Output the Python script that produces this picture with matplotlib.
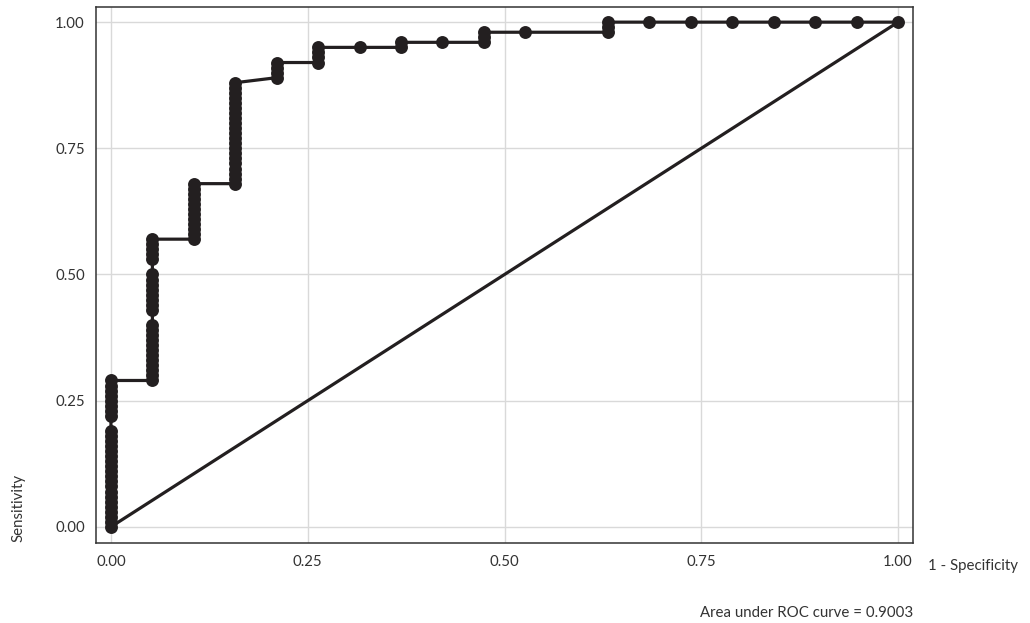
import matplotlib
matplotlib.use('Agg')
import matplotlib.pyplot as plt
import numpy as np

plt.rcParams['font.family'] = ['Lato', 'DejaVu Sans']

# ROC points: false positive count (out of 19 negatives) and sensitivity
n_neg = 19
fp_count = ([0] * 28 + [1] * 25 + [2] * 12 + [3] * 21 + [4] * 4 + [5] * 4
            + [6] + [7] * 2 + [8] + [9] * 3 + [10] + [12] * 3 + [13, 14, 15, 16, 17, 18, 19])
sens = (
    [0.00, 0.01, 0.02, 0.03, 0.04, 0.05, 0.06, 0.07, 0.08, 0.09, 0.10, 0.11, 0.12, 0.13,
     0.14, 0.15, 0.16, 0.17, 0.18, 0.19, 0.22, 0.23, 0.24, 0.25, 0.26, 0.27, 0.28, 0.29]
    + [0.29, 0.30, 0.31, 0.32, 0.33, 0.34, 0.35, 0.36, 0.37, 0.38, 0.39, 0.40,
       0.43, 0.44, 0.45, 0.46, 0.47, 0.48, 0.49, 0.50, 0.53, 0.54, 0.55, 0.56, 0.57]
    + [0.57, 0.58, 0.59, 0.60, 0.61, 0.62, 0.63, 0.64, 0.65, 0.66, 0.67, 0.68]
    + [0.68, 0.69, 0.70, 0.71, 0.72, 0.73, 0.74, 0.75, 0.76, 0.77, 0.78, 0.79, 0.80,
       0.81, 0.82, 0.83, 0.84, 0.85, 0.86, 0.87, 0.88]
    + [0.89, 0.90, 0.91, 0.92]
    + [0.92, 0.93, 0.94, 0.95]
    + [0.95]
    + [0.95, 0.96]
    + [0.96]
    + [0.96, 0.97, 0.98]
    + [0.98]
    + [0.98, 0.99, 1.00]
    + [1.00] * 7
)
fpr = np.array(fp_count) / n_neg
tpr = np.array(sens)

ticks = [0, 0.25, 0.5, 0.75, 1.0]
tick_labels = ['0.00', '0.25', '0.50', '0.75', '1.00']
auc_text = 'Area under ROC curve = 0.9003'

ink = '#231f20'
txt = '#333333'
fs = 10.8

fig = plt.figure(figsize=(10.30, 6.23), dpi=100)
ax = fig.add_axes([96 / 1030, 1 - 543 / 623, (913 - 96) / 1030, (543 - 7) / 623])

ax.plot(fpr, tpr, color=ink, lw=2.3, marker='o', markersize=9.3,
        markeredgewidth=0, solid_joinstyle='round', zorder=3)
ax.plot([0, 1], [0, 1], color=ink, lw=2.3, zorder=2)

ax.set_xlim(-0.019, 1.019)
ax.set_ylim(-0.032, 1.030)
ax.set_xticks(ticks)
ax.set_xticklabels(tick_labels)
ax.set_yticks(ticks)
ax.set_yticklabels(tick_labels)
ax.tick_params(length=0, labelsize=fs, labelcolor=txt)
ax.tick_params(axis='x', pad=9)
ax.tick_params(axis='y', pad=8)
ax.grid(True, color='#d9d9d9', lw=1.0)
ax.set_axisbelow(True)
for s in ax.spines.values():
    s.set_color('#333333')
    s.set_linewidth(1.1)

fig.text(18 / 1030, 1 - 542 / 623, 'Sensitivity', rotation=90, ha='center', va='bottom',
         fontsize=fs, color=txt)
fig.text(928 / 1030, 1 - 566 / 623, '1 - Specificity', ha='left', va='center',
         fontsize=fs, color=txt)
fig.text(913 / 1030, 1 - 613 / 623, auc_text, ha='right', va='center',
         fontsize=fs, color=txt)

fig.savefig('out.png', dpi=100)
